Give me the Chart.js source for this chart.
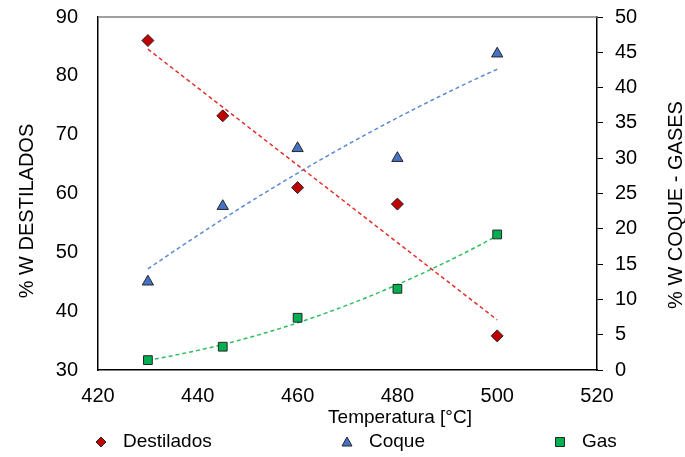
<!DOCTYPE html>
<html>
<head>
<meta charset="utf-8">
<script src="https://cdn.jsdelivr.net/npm/chart.js@4/dist/chart.umd.min.js"></script>
<style>
  html, body { margin: 0; padding: 0; background: #fff; }
  #wrap { width: 685px; height: 457px; position: relative; }
</style>
</head>
<body>
<div id="wrap"><canvas id="chart" width="685" height="457"></canvas></div>
<script>
// temperatures (°C) and yields (% W)
const temperatures = [430, 445, 460, 480, 500];
const destilados = [86.0, 73.2, 61.0, 58.2, 35.8];
const coque = [12.5, 23.2, 31.4, 30.0, 44.8];
const gas = [1.4, 3.3, 7.4, 11.5, 19.2];

const xTicks = [420, 440, 460, 480, 500, 520];
const leftTicks = [30, 40, 50, 60, 70, 80, 90];
const rightTicks = [0, 5, 10, 15, 20, 25, 30, 35, 40, 45, 50];

const FONT = '"Liberation Sans", Arial, sans-serif';

// least squares polynomial fit, returns f(x)
function polyFit(xs, ys, degree) {
  const mx = xs.reduce((a, b) => a + b, 0) / xs.length;
  const n = degree + 1;
  const A = [];
  for (let i = 0; i < n; i++) {
    A.push(new Array(n + 1).fill(0));
  }
  xs.forEach((x, k) => {
    const t = x - mx;
    for (let i = 0; i < n; i++) {
      for (let j = 0; j < n; j++) A[i][j] += Math.pow(t, i + j);
      A[i][n] += ys[k] * Math.pow(t, i);
    }
  });
  for (let i = 0; i < n; i++) {
    for (let r = i + 1; r < n; r++) {
      const f = A[r][i] / A[i][i];
      for (let c = i; c <= n; c++) A[r][c] -= f * A[i][c];
    }
  }
  const coef = new Array(n).fill(0);
  for (let i = n - 1; i >= 0; i--) {
    let s = A[i][n];
    for (let j = i + 1; j < n; j++) s -= A[i][j] * coef[j];
    coef[i] = s / A[i][i];
  }
  return x => coef.reduce((s, c, i) => s + c * Math.pow(x - mx, i), 0);
}

function trendPoints(ys, degree) {
  const f = polyFit(temperatures, ys, degree);
  const pts = [];
  for (let x = temperatures[0]; x <= temperatures[temperatures.length - 1]; x += 1) {
    pts.push({ x, y: f(x) });
  }
  return pts;
}

const toPoints = ys => temperatures.map((t, i) => ({ x: t, y: ys[i] }));

const series = [
  { label: 'Destilados', data: destilados, axis: 'y', color: '#c00000', line: '#e0302a', style: 'rectRot', radius: 6, deg: 1 },
  { label: 'Coque', data: coque, axis: 'y1', color: '#4472c4', line: '#5a8ad6', style: 'triangle', radius: 6.5, deg: 2 },
  { label: 'Gas', data: gas, axis: 'y1', color: '#00b050', line: '#2cbf60', style: 'rect', radius: 6.2, deg: 2 },
];

const datasets = [];
series.forEach(s => {
  datasets.push({
    type: 'line',
    label: s.label + ' trend',
    data: trendPoints(s.data, s.deg),
    yAxisID: s.axis,
    borderColor: s.line,
    borderWidth: 1.5,
    borderDash: [4, 3],
    pointRadius: 0,
    fill: false,
    order: 2,
  });
});
series.forEach(s => {
  datasets.push({
    type: 'scatter',
    label: s.label,
    data: toPoints(s.data),
    yAxisID: s.axis,
    backgroundColor: s.color,
    borderColor: '#262626',
    borderWidth: 1,
    pointStyle: s.style,
    pointRadius: s.radius,
    pointHoverRadius: s.radius,
    order: 1,
  });
});

// frame top line, axis titles and the bottom legend
const decorations = {
  id: 'decorations',
  afterDraw(chart) {
    const { ctx, chartArea } = chart;
    ctx.save();
    ctx.strokeStyle = '#808080';
    ctx.lineWidth = 1.5;
    ctx.beginPath();
    ctx.moveTo(chartArea.left, chartArea.top);
    ctx.lineTo(chartArea.right, chartArea.top);
    ctx.stroke();

    ctx.fillStyle = '#000';
    ctx.font = '19px ' + FONT;
    ctx.textAlign = 'center';
    ctx.textBaseline = 'middle';
    ctx.fillText('Temperatura [°C]', 400, 418);

    ctx.font = '20px ' + FONT;
    ctx.save();
    ctx.translate(27, 211);
    ctx.rotate(-Math.PI / 2);
    ctx.fillText('% W DESTILADOS', 0, 0);
    ctx.restore();

    ctx.save();
    ctx.translate(676, 205);
    ctx.rotate(-Math.PI / 2);
    ctx.fillText('% W COQUE - GASES', 0, 0);
    ctx.restore();

    const legendPos = [
      { mx: 101, tx: 123 },
      { mx: 347, tx: 369 },
      { mx: 560, tx: 582 },
    ];
    ctx.font = '19px ' + FONT;
    ctx.textAlign = 'left';
    series.forEach((s, i) => {
      const p = legendPos[i];
      const y = 442;
      ctx.fillStyle = s.color;
      ctx.strokeStyle = '#262626';
      ctx.lineWidth = 1;
      ctx.beginPath();
      if (s.style === 'rectRot') {
        ctx.moveTo(p.mx, y - 5); ctx.lineTo(p.mx + 5, y); ctx.lineTo(p.mx, y + 5); ctx.lineTo(p.mx - 5, y);
      } else if (s.style === 'triangle') {
        ctx.moveTo(p.mx, y - 5); ctx.lineTo(p.mx + 5, y + 4); ctx.lineTo(p.mx - 5, y + 4);
      } else {
        ctx.rect(p.mx - 4.5, y - 4.5, 9, 9);
      }
      ctx.closePath();
      ctx.fill();
      ctx.stroke();
      ctx.fillStyle = '#000';
      ctx.fillText(s.label, p.tx, y);
    });
    ctx.restore();
  }
};

const tickFont = { family: FONT, size: 20 };

// fix the plot box so it does not shift with label sizes
function fixBox(size, key) {
  return s => {
    s[key] = size;
    s.paddingTop = 0;
    s.paddingBottom = 0;
    s.paddingLeft = 0;
    s.paddingRight = 0;
  };
}

new Chart(document.getElementById('chart').getContext('2d'), {
  data: { datasets },
  options: {
    responsive: false,
    animation: false,
    layout: { padding: { top: 17, left: 0, right: 0, bottom: 0 } },
    plugins: {
      legend: { display: false },
      tooltip: { enabled: false },
    },
    scales: {
      x: {
        type: 'linear',
        min: 420,
        max: 520,
        afterBuildTicks: s => { s.ticks = xTicks.map(v => ({ value: v })); },
        afterFit: fixBox(87, 'height'),
        grid: { display: true, drawOnChartArea: false, drawTicks: false },
        border: { color: '#000', width: 1.5 },
        ticks: { color: '#000', font: tickFont, padding: 14 },
      },
      y: {
        type: 'linear',
        position: 'left',
        min: 30,
        max: 90,
        afterBuildTicks: s => { s.ticks = leftTicks.map(v => ({ value: v })); },
        afterFit: fixBox(98, 'width'),
        grid: { display: true, drawOnChartArea: false, drawTicks: false },
        border: { color: '#000', width: 1.5 },
        ticks: { color: '#000', font: tickFont, padding: 20 },
      },
      y1: {
        type: 'linear',
        position: 'right',
        min: 0,
        max: 50,
        afterBuildTicks: s => { s.ticks = rightTicks.map(v => ({ value: v })); },
        afterFit: fixBox(88, 'width'),
        grid: { display: true, drawOnChartArea: false, drawTicks: true, tickLength: 6, color: '#000', lineWidth: 1 },
        border: { color: '#000', width: 1.5 },
        ticks: { color: '#000', font: tickFont, padding: 12 },
      },
    },
  },
  plugins: [decorations],
});
</script>
</body>
</html>
